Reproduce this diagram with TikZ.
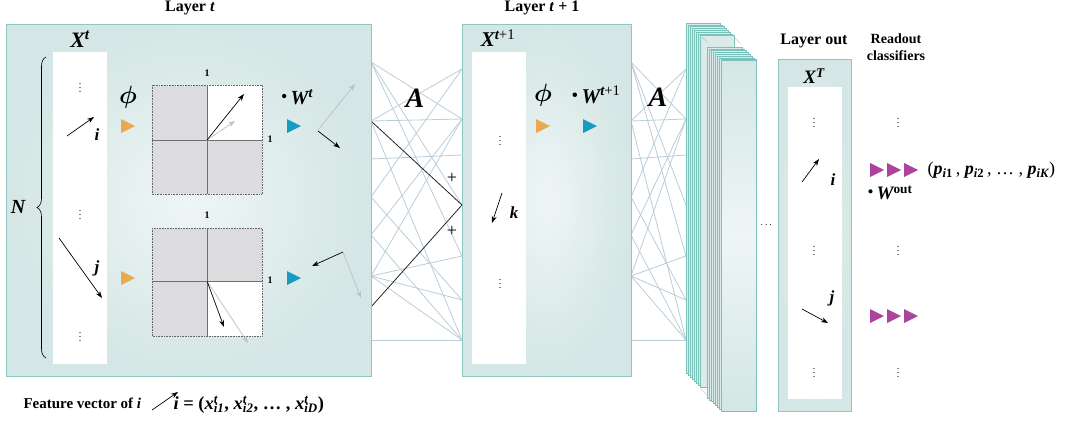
\documentclass[tikz,border=0pt]{standalone}
\usepackage{fontspec}
\setmainfont{Liberation Serif}
\usepackage{amsmath, amssymb}
\usepackage{bm}
\usepackage{tikz}
\usetikzlibrary{decorations.pathreplacing, arrows.meta}
\definecolor{panelrim}{RGB}{143, 200, 194}
\definecolor{panelin}{RGB}{238, 246, 245}
\definecolor{panelout}{RGB}{212, 230, 229}
\definecolor{quadgray}{RGB}{220, 220, 222}
\definecolor{axisgray}{RGB}{112, 112, 112}
\definecolor{phiorange}{RGB}{232, 170, 76}
\definecolor{wblue}{RGB}{24, 155, 193}
\definecolor{readpink}{RGB}{170, 68, 156}
\definecolor{adjblue}{RGB}{186, 205, 215}
\definecolor{ghost}{RGB}{192, 192, 192}
\definecolor{platerim}{RGB}{122, 194, 185}

\newcommand{\bi}[1]{{\bfseries\itshape #1}}
\newcommand{\fx}[1]{\bi{x}\rlap{\textsuperscript{\bi{t}}}\textsubscript{\bi{#1}}}
\newcommand{\wdot}{\raisebox{0.25ex}{\scalebox{0.9}{\textbullet}}\,}
\newcommand{\bigphi}{\scalebox{2.5}{$\boldsymbol{\phi}$}}
\newcommand{\playtri}[3]{\fill[#3] (#1-7, #2-7) -- (#1+7, #2) -- (#1-7, #2+7) -- cycle;}
\newcommand{\adjweb}[2]{%
	\foreach \a/\b in {62/119, 62/205, 62/256, 121/69, 121/119, 121/340, 159/155, 197/69,
		197/300, 235/119, 235/340, 276/119, 276/256, 276/300, 276/340, 340/340} {
		\draw[adjline] (#1, \a) -- (#2, \b);
	}%
}

\tikzset{
	adjline/.style={adjblue, line width=0.8pt},
	vec/.style={-{Stealth[length=7pt, width=5pt]}, line width=0.7pt},
	panel/.style={draw=panelrim, line width=1pt},
	lbl/.style={font=\fontsize{17}{17}\selectfont},
	ttl/.style={font=\bfseries\fontsize{16}{16}\selectfont},
	unit/.style={font=\bfseries\fontsize{10}{10}\selectfont},
	big/.style={font=\fontsize{#1}{#1}\selectfont},
}

\begin{document}
\begin{tikzpicture}[x=1pt, y=-1pt]
	\useasboundingbox (0, 0) rectangle (1065, 421);
	
	% adjacency webs
	\adjweb{371}{462}
	\adjweb{631}{686}
	\draw[black!85, line width=0.8pt] (371, 121) -- (462, 205) -- (371, 307);
	\node[big=18] (plusa) at (452, 178) {+};
	\node[big=18] (plusb) at (452, 231) {+};
	
	% layer t
	\shade[inner color=panelin, outer color=panelout] (6, 24) rectangle (371, 376);
	\draw[panel] (6, 24) rectangle (371, 376);
	\fill[white] (53, 52) rectangle (107, 364);
	
	\fill[quadgray] (152, 85) rectangle (262, 194);
	\fill[white] (207, 85) rectangle (262, 140);
	\fill[quadgray] (152, 228) rectangle (262, 336);
	\fill[white] (207, 281) rectangle (262, 336);
	\foreach \top/\cy/\bot in {85/140/194, 228/281/336} {
		\draw[densely dotted, black!60, line width=0.6pt] (152, \top) rectangle (262, \bot);
		\draw[axisgray, line width=0.9pt] (207, \top) -- (207, \bot) (152, \cy) -- (262, \cy);
	}
	\node[unit] (onea) at (207, 73) {1};
	\node[unit] (oneb) at (270, 139) {1};
	\node[unit] (onec) at (207, 215) {1};
	\node[unit] (oned) at (270, 280) {1};
	
	\draw[vec, ghost] (207, 140) -- (235, 121);
	\draw[vec] (207, 140) -- (244, 94);
	\draw[vec, ghost] (207, 281) -- (248, 343);
	\draw[vec] (207, 281) -- (224, 327);
	\draw[vec, ghost] (318, 130) -- (355, 84);
	\draw[vec] (318, 131) -- (340, 148);
	\draw[vec] (343, 252) -- (312, 266);
	\draw[vec, ghost] (343, 252) -- (361, 298);
	
	\draw[vec] (67, 136) -- (94, 117);
	\draw[vec] (59, 238) -- (102, 298);
	\node[lbl] (vi) at (97, 135) {\bi{i}};
	\node[lbl] (vj) at (97, 268) {\bi{j}};
	\node (dta) at (80, 85) {$\vdots$};
	\node (dtb) at (80, 212) {$\vdots$};
	\node (dtc) at (80, 334) {$\vdots$};
	\draw[decorate, decoration={brace, amplitude=9pt}, line width=0.6pt] (46, 358) -- (46, 57);
	\node[big=20] (nn) at (18, 207) {\bi{N}};
	
	\playtri{128}{126}{phiorange}
	\playtri{128}{278}{phiorange}
	\playtri{294}{126}{wblue}
	\playtri{294}{278}{wblue}
	
	\node[ttl] (layt) at (190, 8) {Layer \textit{t}};
	\node[big=22] (xt) at (80, 39) {\bi{X}\textsuperscript{\bi{t}}};
	\node (phia) at (128, 97) {\bigphi};
	\node[big=20] (wt) at (297, 97) {\wdot\bi{W}\textsuperscript{\bi{t}}};
	
	\node[big=28] (adja) at (415, 98) {\bi{A}};
	\node[big=28] (adjb) at (658, 97) {\bi{A}};
	
	% layer t+1
	\shade[inner color=panelin, outer color=panelout] (462, 24) rectangle (631, 376);
	\draw[panel] (462, 24) rectangle (631, 376);
	\fill[white] (472, 52) rectangle (526, 364);
	\node[ttl] (laytt) at (542, 8) {Layer \textit{t} + 1};
	\node[big=21] (xtt) at (498, 38) {\bi{X}\textsuperscript{\bi{t}+1}};
	\node (phib) at (543, 95) {\bigphi};
	\node[big=21] (wtt) at (596, 95) {\wdot\bi{W}\textsuperscript{\bi{t}+1}};
	\playtri{543}{126}{phiorange}
	\playtri{590}{126}{wblue}
	\node (dtd) at (500, 138) {$\vdots$};
	\node (dte) at (500, 281) {$\vdots$};
	\draw[vec] (502, 193) -- (492, 223);
	\node[lbl] (vk) at (514, 213) {\bi{k}};
	
	% stacked layers
	\foreach \k in {0,...,7} {
		\filldraw[fill=panelout!70!panelin, draw=platerim, line width=0.6pt]
			(686+2*\k, 23+1.8*\k) rectangle (720+2*\k, 373+2*\k);
	}
	\foreach \k in {0,...,7} {
		\filldraw[fill=panelout!70!panelin, draw=platerim, line width=0.6pt]
			(707+2*\k, 47+1.8*\k) rectangle (742+2*\k, 398+1.8*\k);
	}
	\shade[top color=panelout, bottom color=panelout, middle color=panelin] (721.3, 60.3) rectangle (755.7, 410.3);
	\draw[platerim, line width=0.6pt] (721, 60) rectangle (756, 411);
	\draw[densely dotted, black!70] (702, 37) -- (708, 43);
	\draw[densely dotted, black!70] (735, 38) -- (741, 44);
	\draw[densely dotted, black!70] (701, 389) -- (707, 395);
	\node (dtf) at (767, 225) {$\cdots$};
	
	% layer out
	\shade[inner color=panelin, outer color=panelout] (778, 59) rectangle (851, 411);
	\draw[panel] (778, 59) rectangle (851, 411);
	\fill[white] (788, 87) rectangle (842, 399);
	\node[ttl] (layo) at (814, 41) {Layer out};
	\node[big=19] (xo) at (814, 76) {\bi{X}\textsuperscript{\bi{T}}};
	\node (dtg) at (814, 120) {$\vdots$};
	\node (dth) at (814, 248) {$\vdots$};
	\node (dti) at (814, 370) {$\vdots$};
	\draw[vec] (802, 182) -- (819, 159);
	\node[lbl] (oi) at (833, 180) {\bi{i}};
	\draw[vec] (802, 309) -- (828, 323);
	\node[lbl] (oj) at (832, 298) {\bi{j}};
	
	% readout
	\node[font=\bfseries\fontsize{14}{17}\selectfont, align=center] (rdo) at (896, 47) {Readout\\classifiers};
	\node (dtj) at (898, 120) {$\vdots$};
	\node (dtk) at (898, 248) {$\vdots$};
	\node (dtl) at (898, 370) {$\vdots$};
	\foreach \cx in {877, 894, 911} {
		\playtri{\cx}{170}{readpink}
		\playtri{\cx}{316}{readpink}
	}
	\node[anchor=west, big=18] (prob) at (924, 170)
		{(\bi{p}\textsubscript{\bi{i}\textbf{1}}\,, \bi{p}\textsubscript{\bi{i}\textbf{2}}\,, \dots\ , \bi{p}\textsubscript{\bi{iK}})};
	\node[anchor=west, big=19] (wo) at (864, 193) {\wdot\bi{W}\textsuperscript{\textbf{out}}};
	
	% feature vector note
	\node[anchor=west, font=\bfseries\fontsize{15}{15}\selectfont] (fv) at (20, 403) {Feature vector of \textit{i}};
	\draw[vec] (152, 410) -- (178, 392);
	\node[anchor=west, font=\bfseries\fontsize{18.5}{18.5}\selectfont] (fveq) at (170, 405)
		{\bi{i} = (\fx{i1}, \fx{i2}, \dots\ , \fx{iD})};
\end{tikzpicture}
\end{document}
